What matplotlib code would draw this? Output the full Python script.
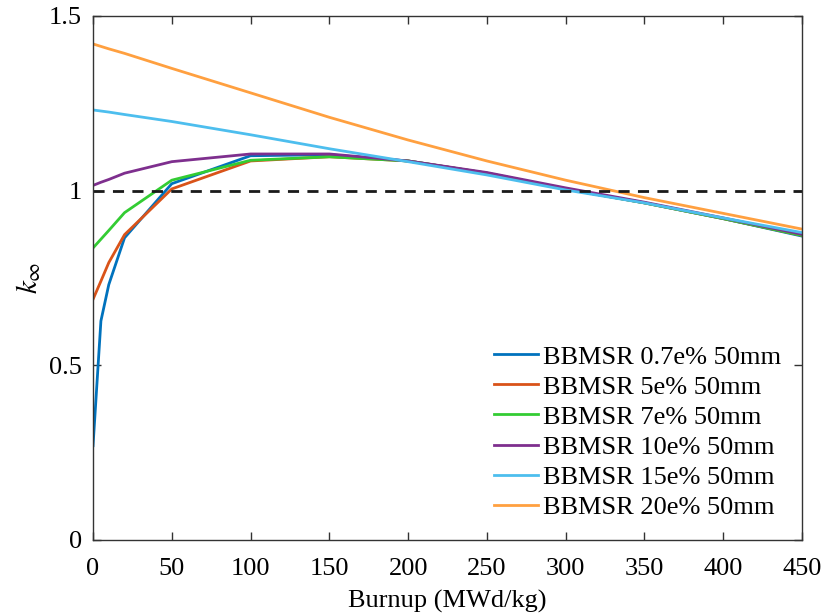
import matplotlib
matplotlib.use('Agg')
import matplotlib.pyplot as plt

plt.rcParams['font.family'] = ['Liberation Serif', 'DejaVu Serif']
plt.rcParams['mathtext.fontset'] = 'stix'

burnup = [0, 5, 10, 20, 50, 100, 150, 200, 250, 300, 350, 400, 450]

k_07 = [0.27, 0.627, 0.731, 0.865, 1.02, 1.10, 1.103, 1.085, 1.05, 1.005, 0.965, 0.92, 0.87]
k_5 = [0.689, 0.741, 0.794, 0.874, 1.005, 1.085, 1.097, 1.085, 1.05, 1.005, 0.965, 0.92, 0.872]
k_7 = [0.836, 0.861, 0.886, 0.937, 1.03, 1.087, 1.097, 1.085, 1.05, 1.005, 0.965, 0.92, 0.872]
k_10 = [1.015, 1.024, 1.032, 1.05, 1.083, 1.105, 1.105, 1.085, 1.052, 1.008, 0.967, 0.922, 0.875]
k_15 = [1.231, 1.228, 1.225, 1.218, 1.198, 1.16, 1.12, 1.083, 1.045, 1.002, 0.965, 0.922, 0.88]
k_20 = [1.42, 1.413, 1.406, 1.393, 1.35, 1.28, 1.21, 1.145, 1.085, 1.03, 0.98, 0.935, 0.89]

labels = ['BBMSR 0.7e% 50mm', 'BBMSR 5e% 50mm', 'BBMSR 7e% 50mm',
          'BBMSR 10e% 50mm', 'BBMSR 15e% 50mm', 'BBMSR 20e% 50mm']
colors = ['#0072BD', '#D95319', '#33CC33', '#7E2F8E', '#4DBEEE', '#FFA040']

fig = plt.figure(figsize=(8.24, 6.13), dpi=100)
ax = fig.add_axes([0.1129, 0.1191, 0.8604, 0.8548])

for k, lab, c in zip([k_07, k_5, k_7, k_10, k_15, k_20], labels, colors):
    ax.plot(burnup, k, color=c, lw=2, label=lab)
ax.axhline(1.0, color='#1a1a1a', lw=2, ls=(0, (4, 3)))

ax.set_xlim(0, 450)
ax.set_ylim(0, 1.5)
ax.set_xticks(range(0, 451, 50))
ax.set_yticks([0, 0.5, 1, 1.5])
ax.set_yticklabels(['0', '0.5', '1', '1.5'])
ax.tick_params(direction='in', top=True, right=True, labelsize=19, length=6,
               width=1, color='#333333')
ax.tick_params(axis='x', pad=13)
ax.tick_params(axis='y', pad=8)
for s in ax.spines.values():
    s.set_linewidth(1)
    s.set_color('#333333')
ax.set_xlabel('Burnup (MWd/kg)', fontsize=19, labelpad=7)
ax.set_ylabel(r'$k_\infty$', fontsize=21, labelpad=4)
ax.legend(loc='lower right', frameon=False, fontsize=19, handlelength=1.67,
          handletextpad=0.19, labelspacing=0.25, borderaxespad=0.4, borderpad=0.4)

fig.savefig('out.png', dpi=100)
